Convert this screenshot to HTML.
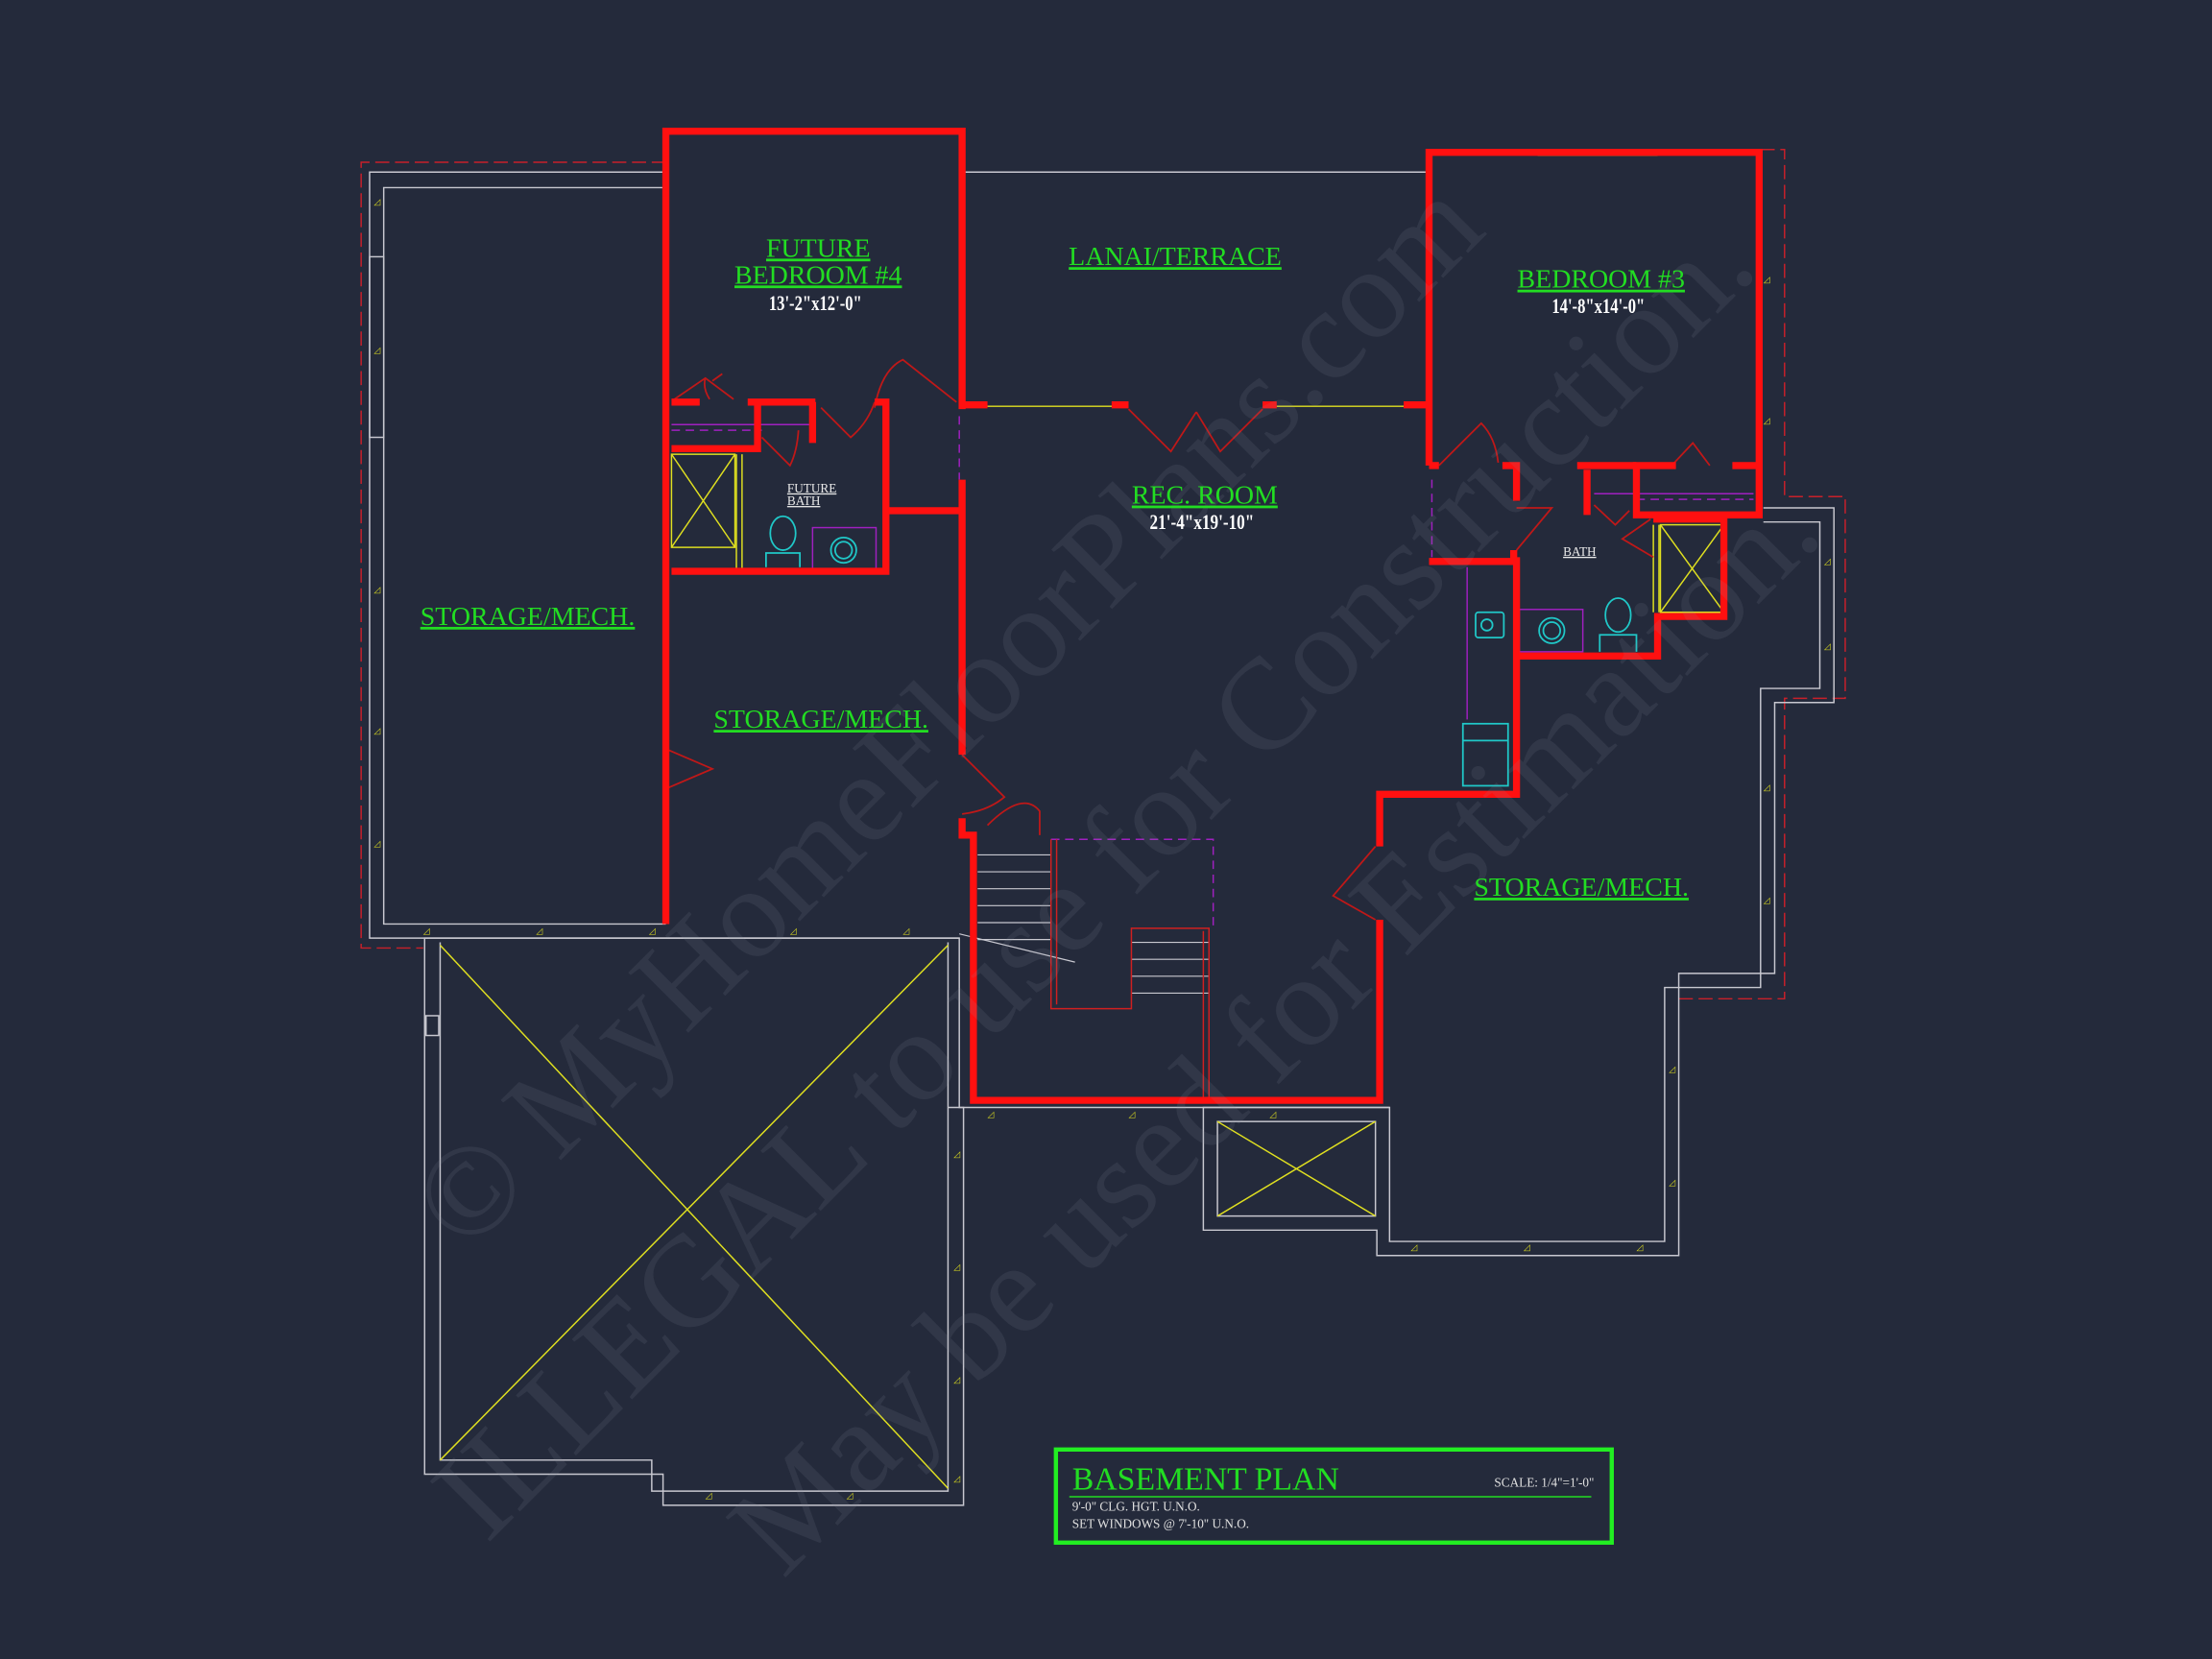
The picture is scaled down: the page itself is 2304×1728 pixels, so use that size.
<!DOCTYPE html>
<html><head><meta charset="utf-8"><style>
html,body{margin:0;padding:0;background:#242a3b;width:2304px;height:1728px;overflow:hidden}
svg{display:block}
.t{font-family:"Liberation Serif",serif}
</style></head><body>
<svg width="2304" height="1728" viewBox="0 0 1568 1176" xmlns="http://www.w3.org/2000/svg">
<rect width="1568" height="1176" fill="#242a3b"/>
<!-- red dashed property-ish outlines -->
<g fill="none" stroke="#c8202a" stroke-width="1" stroke-dasharray="10,4">
<polyline points="472,115 256,115 256,672 300,672"/>
<polyline points="1248,106 1265,106 1265,352 1308,352 1308,495 1265,495 1265,708 1190,708"/>
</g>
<!-- white thin outlines -->
<g fill="none" stroke="#c8c8d0" stroke-width="1">
<polyline points="472,122 262,122 262,665 680,665"/>
<polyline points="472,133 272,133 272,655 472,655"/>
<polygon points="301,665 680,665 680,785 683,785 683,1067 470,1067 470,1045 301,1045"/>
<polyline points="312,668 312,1035 462,1035 462,1057 672,1057 672,668"/>
<polyline points="1250,360 1300,360 1300,498 1258,498 1258,690 1190,690 1190,890 976,890 976,872 853,872 853,785 985,785 985,880 1180,880 1180,700 1248,700 1248,488 1290,488 1290,370 1250,370"/>
<polyline points="672,785 985,785"/>
<rect x="863" y="795" width="112" height="67"/>
<rect x="262" y="182" width="10" height="128"/>
<rect x="302" y="720" width="9" height="14"/>
<line x1="684" y1="122" x2="1013" y2="122"/>
</g>
<!-- yellow X -->
<g stroke="#e0e020" stroke-width="1" fill="none">
<line x1="312" y1="670" x2="672" y2="1055"/>
<line x1="672" y1="670" x2="312" y2="1035"/>
<line x1="863" y1="795" x2="975" y2="862"/>
<line x1="975" y1="795" x2="863" y2="862"/>
<rect x="476" y="322" width="45" height="66"/>
<line x1="476" y1="322" x2="521" y2="388"/><line x1="521" y1="322" x2="476" y2="388"/>
<rect x="1177" y="372" width="45" height="62"/>
<line x1="1177" y1="372" x2="1222" y2="434"/><line x1="1222" y1="372" x2="1177" y2="434"/>
<line x1="522" y1="322" x2="522" y2="404"/><line x1="526" y1="322" x2="526" y2="404"/>
<line x1="1172" y1="372" x2="1172" y2="434"/><line x1="1176" y1="372" x2="1176" y2="434"/>
<line x1="512" y1="94" x2="642" y2="94"/><line x1="1090" y1="110" x2="1175" y2="110"/>
<line x1="700" y1="288" x2="790" y2="288"/><line x1="905" y1="288" x2="995" y2="288"/>
</g>
<!-- small yellow marks -->
<g fill="#d8d820" font-size="6" class="t">
<text x="265" y="145">◿</text><text x="265" y="250">◿</text><text x="265" y="420">◿</text><text x="265" y="520">◿</text><text x="265" y="600">◿</text>
<text x="300" y="662">◿</text><text x="380" y="662">◿</text><text x="460" y="662">◿</text><text x="560" y="662">◿</text><text x="640" y="662">◿</text>
<text x="676" y="820">◿</text><text x="676" y="900">◿</text><text x="676" y="980">◿</text><text x="676" y="1050">◿</text>
<text x="500" y="1062">◿</text><text x="600" y="1062">◿</text>
<text x="700" y="792">◿</text><text x="800" y="792">◿</text><text x="900" y="792">◿</text>
<text x="1000" y="886">◿</text><text x="1080" y="886">◿</text><text x="1160" y="886">◿</text>
<text x="1183" y="760">◿</text><text x="1183" y="840">◿</text>
<text x="1250" y="200">◿</text><text x="1250" y="300">◿</text><text x="1250" y="560">◿</text><text x="1250" y="640">◿</text>
<text x="1293" y="400">◿</text><text x="1293" y="460">◿</text>
</g>
<!-- purple lines -->
<g stroke="#a020c0" stroke-width="1" fill="none">
<line x1="476" y1="301" x2="578" y2="301"/><line x1="476" y1="305" x2="540" y2="305" stroke-dasharray="6,4"/>
<line x1="1130" y1="350" x2="1243" y2="350"/><line x1="1160" y1="354" x2="1243" y2="354" stroke-dasharray="6,4"/>
<rect x="576" y="374" width="45" height="30"/>
<rect x="1077" y="432" width="45" height="30"/>
<line x1="1040" y1="402" x2="1040" y2="510"/>
<polyline points="745,595 860,595 860,660" stroke-dasharray="6,4"/>
<line x1="680" y1="295" x2="680" y2="340" stroke-dasharray="6,4"/>
<line x1="1015" y1="340" x2="1015" y2="395" stroke-dasharray="6,4"/>
</g>
<!-- stairs -->
<g stroke="#c8c8d0" stroke-width="0.8" fill="none">
<line x1="693" y1="606" x2="745" y2="606"/><line x1="693" y1="618" x2="745" y2="618"/><line x1="693" y1="630" x2="745" y2="630"/><line x1="693" y1="642" x2="745" y2="642"/><line x1="693" y1="654" x2="745" y2="654"/><line x1="693" y1="666" x2="745" y2="666"/>
<line x1="802" y1="668" x2="857" y2="668"/><line x1="802" y1="680" x2="857" y2="680"/><line x1="802" y1="692" x2="857" y2="692"/><line x1="802" y1="704" x2="857" y2="704"/>
<line x1="680" y1="662" x2="762" y2="682"/>
</g>
<g stroke="#d02020" stroke-width="1" fill="none">
<polyline points="745,595 745,715 802,715 802,658 857,658 857,780"/>
<line x1="749" y1="595" x2="749" y2="712"/><line x1="853" y1="660" x2="853" y2="780"/>
</g>
<!-- door swings -->
<g stroke="#c01818" stroke-width="1.2" fill="none">
<path d="M478,283 L500,268 L520,283 M500,268 Q498,275 503,283 M505,270 L512,265"/>
<path d="M582,289 L603,310 Q615,300 620,285"/>
<path d="M620,289 Q625,262 640,255 L678,285"/>
<path d="M540,310 L560,330 Q565,320 566,305"/>
<path d="M800,290 L830,320 L848,292 M848,292 L865,320 L895,290"/>
<path d="M470,530 L505,545 L470,560"/>
<path d="M682,535 L712,565 Q700,575 682,577"/>
<path d="M700,585 Q725,560 737,575 L737,592"/>
<path d="M975,600 L945,635 L975,652"/>
<path d="M1020,330 L1050,300 Q1060,310 1062,328"/>
<path d="M1075,360 L1100,360 L1075,390"/>
<path d="M1185,330 L1200,314 L1212,330"/>
<path d="M1170,368 L1150,382 L1172,395"/>
<path d="M1130,358 L1145,372 L1155,362"/>
</g>
<!-- red walls -->
<g stroke="#ff1010" stroke-width="5" fill="none" stroke-linejoin="miter">
<polyline points="472,655 472,93 682,93 682,290"/>
<polyline points="476,285 496,285"/><polyline points="530,285 578,285"/>
<polyline points="537,285 537,318 476,318"/><polyline points="576,285 576,314"/>
<polyline points="620,285 628,285 628,405 476,405"/>
<polyline points="628,362 682,362"/>
<polyline points="682,340 682,535"/>
<polyline points="682,287 700,287"/><polyline points="788,287 800,287"/><polyline points="895,287 905,287"/><polyline points="995,287 1013,287"/>
<polyline points="1013,330 1013,108 1247,108 1247,330 1228,330"/>
<polyline points="1188,330 1160,330 1160,365 1247,365 1247,330"/>
<polyline points="1118,330 1160,330"/><polyline points="1125,333 1125,365"/>
<polyline points="1013,330 1020,330"/><polyline points="1065,330 1075,330 1075,355"/>
<polyline points="1013,398 1073,398 1073,390"/>
<polyline points="1075,395 1075,563 978,563 978,600"/>
<polyline points="978,652 978,780 690,780 690,592 682,592 682,580"/>
<polyline points="1075,465 1175,465 1175,437 1222,437 1222,368 1172,368"/>
</g>
<!-- fixtures cyan -->
<g stroke="#20c8c8" stroke-width="1.2" fill="none">
<ellipse cx="555" cy="378" rx="9" ry="12"/><path d="M543,402 L543,392 L567,392 L567,402"/>
<circle cx="598" cy="390" r="9"/><circle cx="598" cy="390" r="6"/>
<ellipse cx="1147" cy="436" rx="9" ry="12"/><path d="M1134,462 L1134,450 L1160,450 L1160,462"/>
<circle cx="1100" cy="447" r="9"/><circle cx="1100" cy="447" r="6"/>
<rect x="1046" y="434" width="20" height="18" rx="2"/><circle cx="1054" cy="443" r="4"/>
<rect x="1037" y="513" width="32" height="44"/><line x1="1037" y1="525" x2="1069" y2="525"/>
</g>
<!-- watermark -->
<g fill="#8890a0" opacity="0.13" class="t" font-size="92">
<text transform="translate(330,890) rotate(-45)">© MyHomeFloorPlans.com</text>
<text transform="translate(345,1095) rotate(-45)">ILLEGAL to use for Construction.</text>
<text transform="translate(555,1120) rotate(-45)">May be used for Estimation.</text>
</g>
<!-- labels -->
<g class="t" fill="#22dd22" font-size="19" text-anchor="middle" text-decoration="underline">
<text x="580" y="182">FUTURE</text>
<text x="580" y="201">BEDROOM #4</text>
<text x="833" y="188">LANAI/TERRACE</text>
<text x="1135" y="204">BEDROOM #3</text>
<text x="854" y="357">REC. ROOM</text>
<text x="374" y="443">STORAGE/MECH.</text>
<text x="582" y="516">STORAGE/MECH.</text>
<text x="1121" y="635">STORAGE/MECH.</text>
</g>
<g class="t" fill="#ffffff" font-size="15" text-anchor="middle" font-weight="bold">
<text x="578" y="220" textLength="66" lengthAdjust="spacingAndGlyphs">13'-2"x12'-0"</text>
<text x="1133" y="222" textLength="66" lengthAdjust="spacingAndGlyphs">14'-8"x14'-0"</text>
<text x="852" y="375" textLength="74" lengthAdjust="spacingAndGlyphs">21'-4"x19'-10"</text>
</g>
<g class="t" fill="#e8e8e8" font-size="9" text-decoration="underline">
<text x="558" y="349">FUTURE</text><text x="558" y="358">BATH</text>
<text x="1108" y="394">BATH</text>
</g>
<!-- title block -->
<rect x="748.5" y="1027.5" width="394" height="66" fill="none" stroke="#22ee22" stroke-width="3"/>
<text x="760" y="1056" class="t" fill="#22dd22" font-size="23">BASEMENT PLAN</text>
<line x1="758" y1="1061" x2="1128" y2="1061" stroke="#22dd22" stroke-width="1"/>
<text x="1130" y="1054" class="t" fill="#e0e0e0" font-size="9" text-anchor="end">SCALE: 1/4"=1'-0"</text>
<text x="760" y="1071" class="t" fill="#e0e0e0" font-size="9">9'-0" CLG. HGT. U.N.O.</text>
<text x="760" y="1083" class="t" fill="#e0e0e0" font-size="9">SET WINDOWS @ 7'-10" U.N.O.</text>
</svg>
</body></html>
